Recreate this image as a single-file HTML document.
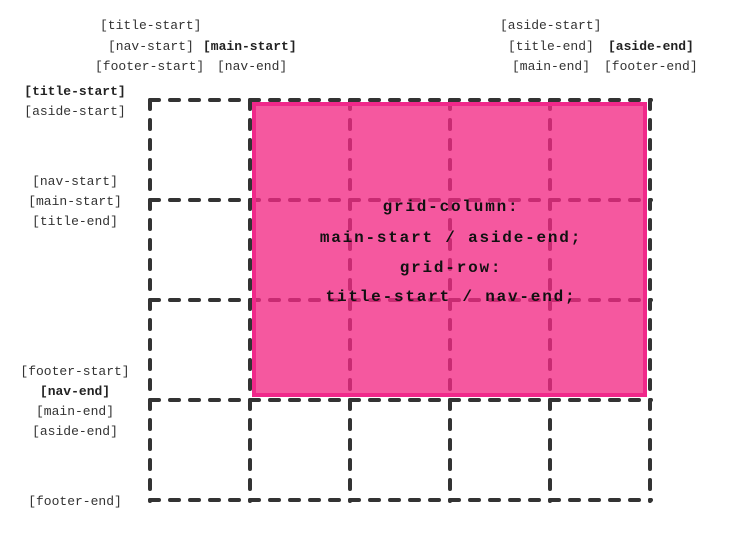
<!DOCTYPE html>
<html><head><meta charset="utf-8"><style>
html,body{margin:0;padding:0;background:#fff;}
svg{display:block}
text{font-family:"Liberation Mono",monospace;font-size:13px;fill:#333}
.b{font-weight:bold;fill:#222}
.c{font-size:16px;font-weight:bold;fill:#111;letter-spacing:1.8px}
</style></head><body>
<svg width="750" height="550" viewBox="0 0 750 550">
<g stroke="#333" stroke-width="4" stroke-dasharray="9 11" stroke-linecap="round" fill="none">
<line x1="150" y1="100" x2="651" y2="100"/>
<line x1="150" y1="200" x2="651" y2="200"/>
<line x1="150" y1="300" x2="651" y2="300"/>
<line x1="150" y1="400" x2="651" y2="400"/>
<line x1="150" y1="500" x2="651" y2="500"/>
<line x1="150" y1="100" x2="150" y2="501"/>
<line x1="250" y1="100" x2="250" y2="501"/>
<line x1="350" y1="100" x2="350" y2="501"/>
<line x1="450" y1="100" x2="450" y2="501"/>
<line x1="550" y1="100" x2="550" y2="501"/>
<line x1="650" y1="100" x2="650" y2="501"/>
</g>
<rect x="254" y="104" width="391" height="291" fill="#f22984" fill-opacity="0.78" stroke="#f0288a" stroke-width="4"/>
<text x="100" y="29">[title-start]</text>
<text x="108" y="50">[nav-start]</text><text class="b" x="203" y="50">[main-start]</text>
<text x="95" y="70">[footer-start]</text><text x="217" y="70">[nav-end]</text>
<text x="500" y="29">[aside-start]</text>
<text x="508" y="50">[title-end]</text><text class="b" x="608" y="50">[aside-end]</text>
<text x="512" y="70">[main-end]</text><text x="604" y="70">[footer-end]</text>
<g text-anchor="middle">
<text class="b" x="75" y="95">[title-start]</text>
<text x="75" y="115">[aside-start]</text>
<text x="75" y="185">[nav-start]</text>
<text x="75" y="205">[main-start]</text>
<text x="75" y="225">[title-end]</text>
<text x="75" y="375">[footer-start]</text>
<text class="b" x="75" y="395">[nav-end]</text>
<text x="75" y="415">[main-end]</text>
<text x="75" y="435">[aside-end]</text>
<text x="75" y="505">[footer-end]</text>
<text class="c" x="451" y="211">grid-column:</text>
<text class="c" x="451" y="242">main-start / aside-end;</text>
<text class="c" x="451" y="272">grid-row:</text>
<text class="c" x="451" y="301">title-start / nav-end;</text>
</g>
</svg>
</body></html>
